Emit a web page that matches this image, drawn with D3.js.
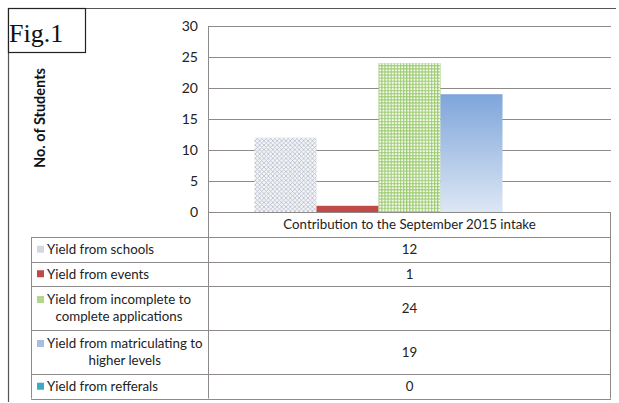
<!DOCTYPE html>
<html><head><meta charset="utf-8">
<script src="https://cdn.jsdelivr.net/npm/d3@7"></script>
<style>body{margin:0;background:#fff}svg{display:block}</style>
</head><body>
<svg id="c" width="619" height="403"></svg>
<script>
const category = "Contribution to the September 2015 intake";
const seriesNames = ["Yield from schools","Yield from events","Yield from incomplete to complete applications","Yield from matriculating to higher levels","Yield from refferals"];
const seriesLines = [["Yield from schools"],["Yield from events"],["Yield from incomplete to","complete applications"],["Yield from matriculating to","higher levels"],["Yield from refferals"]];
const seriesValues = [12,1,24,19,0];
const yTicks = [0,5,10,15,20,25,30];
const yTitle = "No. of Students";
const figLabel = "Fig.1";

(function(){
const svg = d3.select("#c");
const font = "Lato, 'Open Sans', sans-serif";
const fs = 13.3;
const defs = svg.append("defs");
const ph = defs.append("pattern").attr("id","hatch").attr("patternUnits","userSpaceOnUse").attr("width",4.4).attr("height",4.4);
ph.append("rect").attr("width",4.4).attr("height",4.4).attr("fill","#f3f5f8");
ph.append("path").attr("d","M0,0L4.4,4.4M4.4,0L0,4.4").attr("stroke","#aeb5c2").attr("stroke-width",0.7);
const pg = defs.append("pattern").attr("id","grid").attr("patternUnits","userSpaceOnUse").attr("width",3.1).attr("height",3.1);
pg.append("rect").attr("width",3.1).attr("height",3.1).attr("fill","#f6faf0");
pg.append("path").attr("d","M0,0.6H3.1M0.6,0V3.1").attr("stroke","#94c765").attr("stroke-width",1);
const lg = defs.append("linearGradient").attr("id","blue").attr("x1",0).attr("y1",0).attr("x2",0).attr("y2",1);
lg.append("stop").attr("offset","0%").attr("stop-color","#7ea5db");
lg.append("stop").attr("offset","100%").attr("stop-color","#dde7f4");
const fills = ["url(#hatch)","#bf4a47","url(#grid)","url(#blue)","#3fa9c5"];
const keyFills = ["#d3d7de","#bf4a47","#b2d68a","#a6bfe0","#3fa9c5"];

const pLeft = 208, pRight = 611, pTop = 26, pBase = 212;
const y = d3.scaleLinear().domain([0,30]).range([pBase, pTop]);
const x0 = d3.scaleBand().domain([category]).range([pLeft,pRight]).paddingOuter(0.15).paddingInner(0);
const x1 = d3.scaleBand().domain(seriesNames).range([0, x0.bandwidth()]);

svg.append("path").attr("d","M8.5,402V8.5H616").attr("fill","none").attr("stroke","#555").attr("stroke-width",1.2);

svg.append("g").selectAll("line").data(yTicks).join("line")
  .attr("x1",pLeft).attr("x2",pRight).attr("y1",d=>Math.round(y(d))+0.5).attr("y2",d=>Math.round(y(d))+0.5)
  .attr("stroke","#8f8a8a").attr("stroke-width",1);

const ax = svg.append("g").attr("transform",`translate(${pLeft},0)`)
  .call(d3.axisLeft(y).tickValues(yTicks).tickSize(0).tickPadding(10));
ax.select(".domain").remove();
ax.selectAll("text").attr("font-family",font).attr("font-size",14).attr("fill","#222");

svg.append("g").selectAll("rect").data(seriesValues).join("rect")
  .attr("x",(d,i)=>x0(category)+x1(seriesNames[i]))
  .attr("width",x1.bandwidth())
  .attr("y",d=>y(d)).attr("height",d=>y(0)-y(d))
  .attr("fill",(d,i)=>fills[i]);

svg.append("text").attr("transform","translate(45,118) rotate(-90)").attr("text-anchor","middle")
  .attr("font-family",font).attr("font-weight","bold").attr("font-size",14.5).attr("fill","#111").text(yTitle);

const tblLeft = 31;
const rowH = seriesLines.map(l => l.length>1 ? 44 : 24.5);
const hdrBottom = 237;
let ys = [hdrBottom];
rowH.forEach(h=>ys.push(ys[ys.length-1]+h));
const tbl = svg.append("g");
const lineColor = "#8f8a8a";
tbl.append("line").attr("x1",pLeft+0.5).attr("x2",pLeft+0.5).attr("y1",pTop).attr("y2",ys[ys.length-1]).attr("stroke",lineColor);
tbl.append("line").attr("x1",pRight-0.5).attr("x2",pRight-0.5).attr("y1",pBase).attr("y2",ys[ys.length-1]).attr("stroke",lineColor);
tbl.append("line").attr("x1",tblLeft+0.5).attr("x2",tblLeft+0.5).attr("y1",hdrBottom).attr("y2",ys[ys.length-1]).attr("stroke",lineColor);
tbl.selectAll("line.h").data(ys).join("line").attr("class","h")
  .attr("x1",tblLeft).attr("x2",pRight).attr("y1",d=>Math.round(d)+0.5).attr("y2",d=>Math.round(d)+0.5).attr("stroke",lineColor);
const mid = (pLeft+pRight)/2;
tbl.append("text").attr("x",mid).attr("y",(pBase+hdrBottom)/2+4.8).attr("text-anchor","middle")
  .attr("font-family",font).attr("font-size",fs).attr("fill","#222").text(category);
seriesValues.forEach((v,i)=>{
  const cy = (ys[i]+ys[i+1])/2;
  tbl.append("text").attr("x",mid).attr("y",cy+4.8).attr("text-anchor","middle")
    .attr("font-family",font).attr("font-size",fs).attr("fill","#222").text(v);
  const lines = seriesLines[i];
  const g = tbl.append("g");
  const y0 = cy - (lines.length-1)*8.5;
  const t1 = g.append("text").attr("x",47).attr("y",y0+4.8).attr("font-family",font).attr("font-size",fs).attr("fill","#222").text(lines[0]);
  if (lines.length>1){
    const w = t1.node().getComputedTextLength();
    g.append("text").attr("x",47+w/2).attr("y",y0+21.8).attr("text-anchor","middle").attr("font-family",font).attr("font-size",fs).attr("fill","#222").text(lines[1]);
  }
  g.append("rect").attr("x",37).attr("y",y0-3.5).attr("width",7).attr("height",7).attr("fill",keyFills[i]);
});

svg.append("rect").attr("x",8.5).attr("y",8.5).attr("width",77).attr("height",44).attr("fill","#fff").attr("stroke","#222").attr("stroke-width",1.2);
svg.append("text").attr("x",9).attr("y",42).attr("font-family","'Liberation Serif', serif").attr("font-size",26).attr("fill","#111").text(figLabel);
})();
</script>
</body></html>
